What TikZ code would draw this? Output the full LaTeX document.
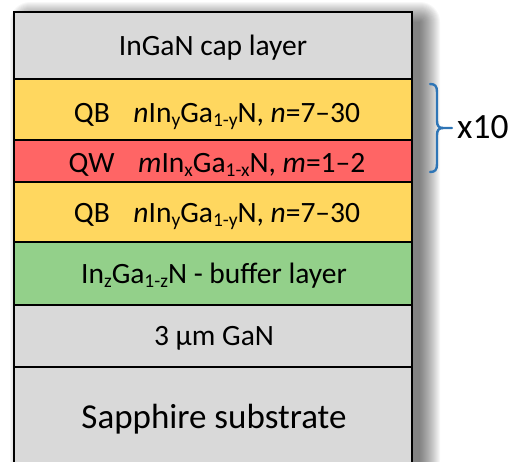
\documentclass[tikz,border=0pt]{standalone}
\usepackage{fontspec}
\setmainfont{Carlito}
\definecolor{capgray}{HTML}{D9D9D9}
\definecolor{qbyellow}{HTML}{FFD75F}
\definecolor{qwred}{HTML}{FF6565}
\definecolor{bufgreen}{HTML}{93D08A}
\definecolor{braceblue}{HTML}{2E75B6}
\newcommand{\sbs}[1]{\raisebox{-4.8pt}{\fontsize{19.5}{20}\selectfont #1}}
\begin{document}
\begin{tikzpicture}[x=1pt,y=-1pt,
  layer/.style={draw=black, line width=1.6pt, anchor=north west, inner sep=0pt, outer sep=0pt, minimum width=398pt},
  strong/.style={layer, line width=2.4pt},
  lbl/.style={anchor=base, inner sep=0pt, text=black},
  big/.style={font=\fontsize{29.5}{34}\selectfont},
  mid/.style={font=\fontsize{29.5}{34}\selectfont},
  huge/.style={font=\fontsize{35}{40}\selectfont},
  bracestyle/.style={draw=braceblue, line width=2.4pt, line cap=round, line join=round}]
\useasboundingbox (0,0) rectangle (516,461);
\clip (0,0) rectangle (516,461);
% soft shadow
\foreach \i in {0,...,20}{
  \fill[black, opacity=0.032, rounded corners=\i pt] (30-\i,22-\i) rectangle (420+\i,480);
}
% layers
\node[layer, fill=capgray, minimum height=67pt] (cap) at (14,12) {};
\node[layer, fill=bufgreen, minimum height=63pt] (buf) at (14,242) {};
\node[layer, fill=capgray, minimum height=62pt] (gan) at (14,305) {};
\node[layer, fill=capgray, minimum height=110pt] (sap) at (14,367) {};
\node[strong, fill=qbyellow, minimum height=61pt] (qbone) at (14,79) {};
\node[strong, fill=qwred, minimum height=42pt] (qw) at (14,140) {};
\node[strong, fill=qbyellow, minimum height=60pt] (qbtwo) at (14,182) {};
% labels
\node[lbl, big] (tcap) at (213,55) {InGaN cap layer};
\node[lbl, mid] (tqbone) at (217,122) {QB\hspace{0.8em}\textit{n}In\sbs{y}Ga\sbs{1-y}N, \textit{n}=7–30};
\node[lbl, mid] (tqw) at (217,172) {QW\hspace{0.8em}\textit{m}In\sbs{x}Ga\sbs{1-x}N, \textit{m}=1–2};
\node[lbl, mid] (tqbtwo) at (217,222) {QB\hspace{0.8em}\textit{n}In\sbs{y}Ga\sbs{1-y}N, \textit{n}=7–30};
\node[lbl, big] (tbuf) at (214,283) {In\sbs{z}Ga\sbs{1-z}N - buffer layer};
\node[lbl, big] (tgan) at (214,345) {3 µm GaN};
\node[lbl, huge] (tsap) at (214,428) {Sapphire substrate};
% brace
\coordinate (btop) at (430,84);
\coordinate (bbot) at (430,172);
\coordinate (btip) at (443,128);
\coordinate (bend) at (452,128);
\draw[bracestyle] (btop) .. controls (435,84) and (437,86) .. (437,92) -- (437,121) .. controls (437,126) and (439,128) .. (btip) -- (bend);
\draw[bracestyle] (bbot) .. controls (435,172) and (437,170) .. (437,164) -- (437,135) .. controls (437,130) and (439,128) .. (btip);
\node[anchor=base west, inner sep=0pt, font=\fontsize{35.5}{40}\selectfont] (reps) at (457,138) {x10};
\end{tikzpicture}
\end{document}
